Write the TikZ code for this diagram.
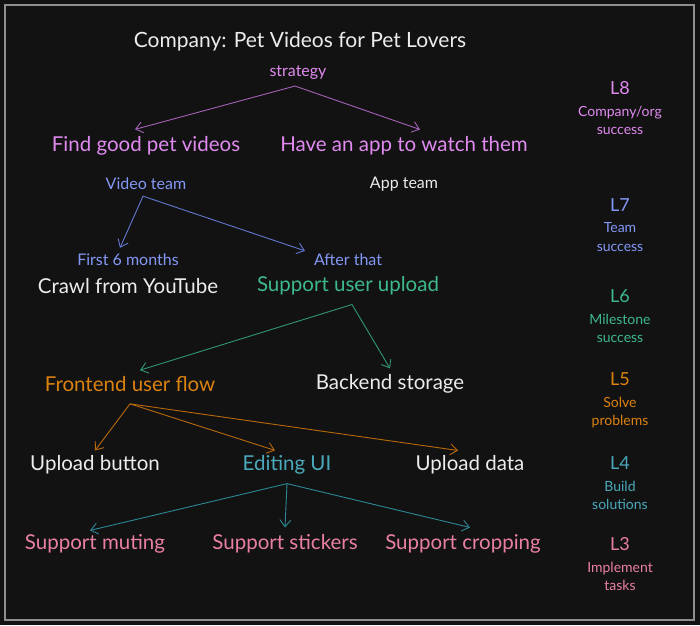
\documentclass[tikz,border=0pt]{standalone}
\usepackage{fontspec}
\setmainfont{Lato}
\usepackage{tikz}
\usetikzlibrary{positioning,arrows.meta}

\definecolor{bgdark}{HTML}{121212}
\definecolor{framegray}{HTML}{8E8E8E}
\definecolor{plainwhite}{HTML}{ECECEC}
\definecolor{violettext}{HTML}{E08AF0}
\definecolor{violetline}{HTML}{A461B8}
\definecolor{bluetext}{HTML}{8398F5}
\definecolor{blueline}{HTML}{6277D0}
\definecolor{greentext}{HTML}{3DB98C}
\definecolor{greenline}{HTML}{2F9676}
\definecolor{orangetext}{HTML}{DC820F}
\definecolor{orangeline}{HTML}{B8690C}
\definecolor{cyantext}{HTML}{4AAABB}
\definecolor{cyanline}{HTML}{2E8797}
\definecolor{pinktext}{HTML}{EA7FA6}

\begin{document}
\begin{tikzpicture}[
    x=1pt, y=-1pt,
    titlenode/.style={inner sep=1pt, font=\fontsize{21}{24}\selectfont},
    bignode/.style={inner sep=1pt, font=\fontsize{20.5}{23}\selectfont},
    smallnode/.style={inner sep=1pt, font=\fontsize{16}{18}\selectfont},
    levelnode/.style={inner sep=1pt, font=\fontsize{18}{20}\selectfont},
    descnode/.style={inner sep=1pt, align=center, font=\fontsize{14}{18.5}\selectfont},
    treearrow/.style={-{Straight Barb[length=7pt,width=11pt]}, line width=0.9pt}
    ]
        %Background
        \useasboundingbox (0,0) rectangle (700,625);
        \fill[bgdark] (0,0) rectangle (700,625);
        \draw[framegray, line width=1.6pt] (5,5) rectangle (694,620);

        %Title and strategy
        \node[titlenode, text=plainwhite] (title) at (300,42) {Company: Pet Videos for Pet Lovers};
        \node[smallnode, text=violettext] (strategy) at (298,73) {strategy};
        \node[bignode, text=violettext] (find) at (146,146) {Find good pet videos};
        \node[bignode, text=violettext] (app) at (404,146) {Have an app to watch them};

        %Teams
        \node[smallnode, text=bluetext] (videoteam) at (146,184) {Video team};
        \node[smallnode, text=plainwhite] (appteam) at (404,184) {App team};
        \node[smallnode, text=bluetext] (first) at (128,260) {First 6 months};
        \node[smallnode, text=bluetext] (after) at (348,260) {After that};
        \node[bignode, text=plainwhite] (crawl) at (128,286) {Crawl from YouTube};
        \node[bignode, text=greentext] (upload) at (348,286) {Support user upload};

        %Problems
        \node[bignode, text=orangetext] (frontend) at (130,384) {Frontend user flow};
        \node[bignode, text=plainwhite] (backend) at (390,384) {Backend storage};

        %Solutions
        \node[bignode, text=plainwhite] (button) at (95,465) {Upload button};
        \node[bignode, text=cyantext] (editing) at (287,465) {Editing UI};
        \node[bignode, text=plainwhite] (data) at (470,465) {Upload data};

        %Tasks
        \node[bignode, text=pinktext] (muting) at (95,544) {Support muting};
        \node[bignode, text=pinktext] (stickers) at (285,544) {Support stickers};
        \node[bignode, text=pinktext] (cropping) at (463,544) {Support cropping};

        %Levels
        \node[levelnode, text=violettext] (l8) at (620,88) {L8};
        \node[descnode, text=violettext, below=9pt of l8] (d8) {Company/org\\success};
        \node[levelnode, text=bluetext] (l7) at (620,205) {L7};
        \node[descnode, text=bluetext, below=9pt of l7] (d7) {Team\\success};
        \node[levelnode, text=greentext] (l6) at (620,296) {L6};
        \node[descnode, text=greentext, below=9pt of l6] (d6) {Milestone\\success};
        \node[levelnode, text=orangetext] (l5) at (620,379) {L5};
        \node[descnode, text=orangetext, below=9pt of l5] (d5) {Solve\\problems};
        \node[levelnode, text=cyantext] (l4) at (620,463) {L4};
        \node[descnode, text=cyantext, below=9pt of l4] (d4) {Build\\solutions};
        \node[levelnode, text=pinktext] (l3) at (620,544) {L3};
        \node[descnode, text=pinktext, below=9pt of l3] (d3) {Implement\\tasks};

        %Lines
        \draw[treearrow, violetline] 
            ([xshift=-3pt, yshift=-5pt]strategy.south) -- ([xshift=-11pt, yshift=6pt]find.north);
        \draw[treearrow, violetline] 
            ([xshift=-3pt, yshift=-5pt]strategy.south) -- ([xshift=16pt, yshift=6pt]app.north);
        \draw[treearrow, blueline] 
            ([xshift=-3pt, yshift=-5pt]videoteam.south) -- ([xshift=-8pt, yshift=5pt]first.north);
        \draw[treearrow, blueline] 
            ([xshift=-3pt, yshift=-5pt]videoteam.south) -- ([xshift=-43pt, yshift=2pt]after.north);
        \draw[treearrow, greenline] 
            ([xshift=4pt, yshift=-8pt]upload.south) -- ([xshift=10pt, yshift=5pt]frontend.north);
        \draw[treearrow, greenline] 
            ([xshift=4pt, yshift=-8pt]upload.south) -- ([yshift=5pt]backend.north);
        \draw[treearrow, orangeline] 
            ([yshift=-11pt]frontend.south) -- ([yshift=4pt]button.north);
        \draw[treearrow, orangeline] 
            ([yshift=-11pt]frontend.south) -- ([xshift=-12pt, yshift=4pt]editing.north);
        \draw[treearrow, orangeline] 
            ([yshift=-11pt]frontend.south) -- ([xshift=-12pt, yshift=4pt]data.north);
        \draw[treearrow, cyanline] 
            ([yshift=-8pt]editing.south) -- ([xshift=-5pt, yshift=3pt]muting.north);
        \draw[treearrow, cyanline] 
            ([yshift=-8pt]editing.south) -- ([yshift=6pt]stickers.north);
        \draw[treearrow, cyanline] 
            ([yshift=-8pt]editing.south) -- ([xshift=7pt, yshift=6pt]cropping.north);
\end{tikzpicture}
\end{document}
